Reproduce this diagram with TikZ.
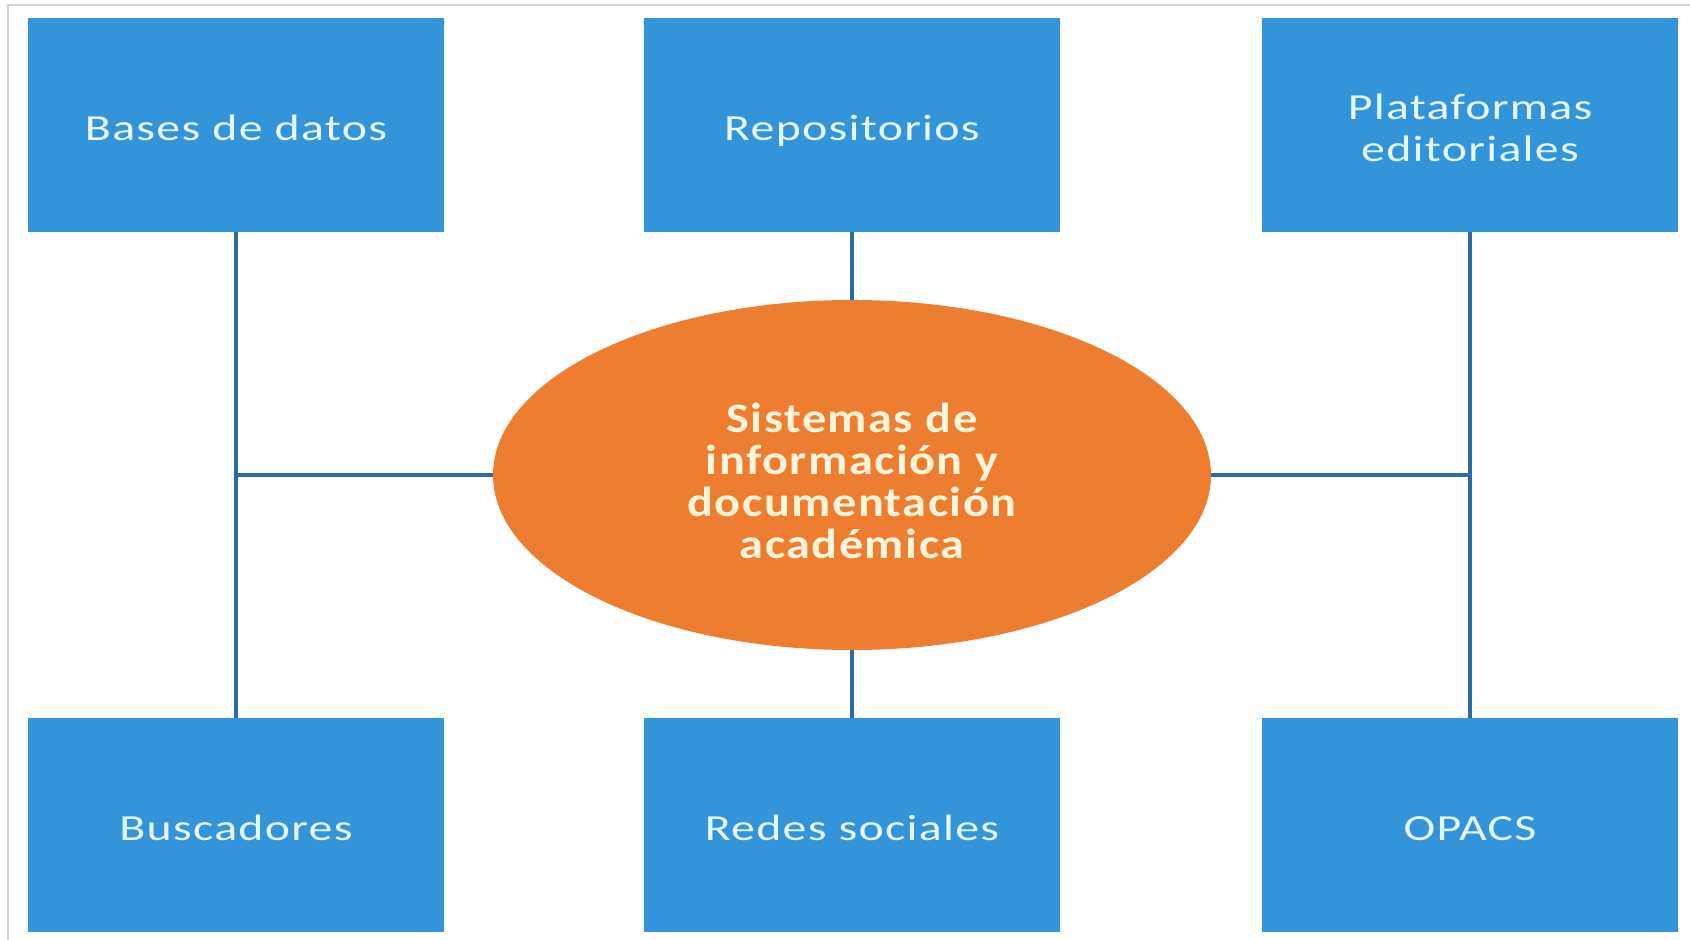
\documentclass[tikz,border=0pt]{standalone}
\usepackage{fontspec}
\setmainfont{Carlito}
\newfontfamily\boxfont[FakeStretch=1.3,LetterSpace=3.5]{Carlito}
\newfontfamily\ellfont[FakeStretch=1.15,LetterSpace=3.5]{Carlito}
\usetikzlibrary{shapes.geometric}
\definecolor{boxblue}{HTML}{3494DA}
\definecolor{boxtext}{HTML}{E4F8FF}
\definecolor{ellorange}{HTML}{ED7D31}
\definecolor{elltext}{HTML}{FFF4D8}
\definecolor{connblue}{HTML}{2C6CA6}
\definecolor{framegray}{HTML}{D4D4D4}
\newcommand{\lowtext}[2]{\raisebox{-#1}[\height][\depth]{\begin{tabular}{@{}c@{}}#2\end{tabular}}}
\tikzset{
  bx/.style={rectangle, fill=boxblue, minimum width=208pt, minimum height=107pt, inner sep=0pt,
    text=boxtext, font=\boxfont\fontsize{18.4pt}{21pt}\selectfont, align=center},
  hub/.style={ellipse, fill=ellorange, minimum width=359pt, minimum height=175pt, inner sep=0pt,
    text=elltext, font=\ellfont\bfseries\fontsize{21pt}{21pt}\selectfont, align=center},
  conn/.style={draw=connblue, line width=2.4pt}
}
\begin{document}
\begin{tikzpicture}[x=0.5pt,y=-0.5pt]
\useasboundingbox (0,0) rectangle (1690,940);
\fill[white] (0,0) rectangle (1690,940);
\draw[framegray, line width=1pt] (8,960) -- (8,5) -- (1720,5);
\node[hub] (c) at (852,475) {\lowtext{6pt}{Sistemas de\\información y\\documentación\\académica}};
\node[bx] (b1) at (236,125) {\lowtext{3.7pt}{Bases de datos}};
\node[bx] (b2) at (852,125) {\lowtext{3.7pt}{Repositorios}};
\node[bx] (b3) at (1470,125) {\lowtext{3.7pt}{Plataformas\\editoriales}};
\node[bx] (b4) at (236,825) {\lowtext{3.7pt}{Buscadores}};
\node[bx] (b5) at (852,825) {\lowtext{3.7pt}{Redes sociales}};
\node[bx] (b6) at (1470,825) {\lowtext{3.7pt}{OPACS}};
\coordinate (jl) at (b1.south |- c.west);
\coordinate (jr) at (b3.south |- c.east);
\draw[conn] (b1.south) -- (b4.north);
\draw[conn] (b3.south) -- (b6.north);
\draw[conn] (jl) -- (c.west);
\draw[conn] (c.east) -- (jr);
\draw[conn] (b2.south) -- (c.north);
\draw[conn] (c.south) -- (b5.north);
\end{tikzpicture}
\end{document}
